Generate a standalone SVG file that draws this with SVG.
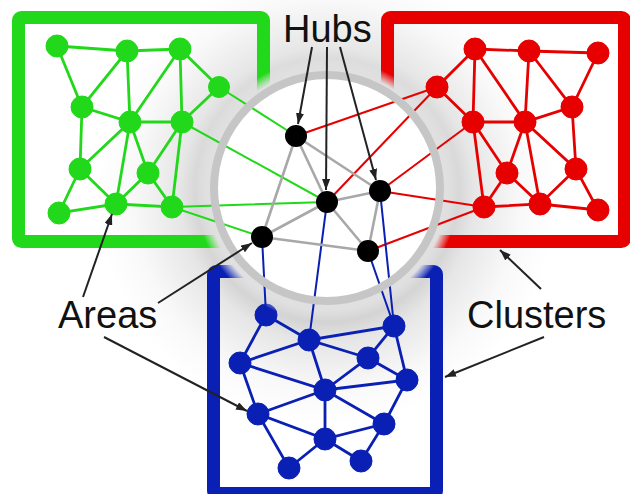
<svg xmlns="http://www.w3.org/2000/svg" width="630" height="494" viewBox="0 0 630 494">
<defs>
<radialGradient id="bgshade" cx="327" cy="195" r="230" gradientUnits="userSpaceOnUse">
<stop offset="0.5" stop-color="#c8c8c8"/>
<stop offset="0.64" stop-color="#e6e6e6"/>
<stop offset="0.85" stop-color="#f9f9f9"/>
<stop offset="1" stop-color="#ffffff"/>
</radialGradient>
<radialGradient id="halo" cx="327" cy="190" r="132" gradientUnits="userSpaceOnUse">
<stop offset="0" stop-color="#e6e6e6"/>
<stop offset="0.91" stop-color="#e0e0e0" stop-opacity="1"/>
<stop offset="1" stop-color="#eeeeee" stop-opacity="0"/>
</radialGradient>
<marker id="ah" markerUnits="userSpaceOnUse" markerWidth="11" markerHeight="8" refX="11" refY="4" orient="auto">
<path d="M0,0 L11,4 L0,8 z" fill="#222"/>
</marker>
<style>
.box{fill:none;stroke-width:13}
.g{stroke:#22d81a;fill:#22d81a}
.r{stroke:#e60000;fill:#e60000}
.b{stroke:#0a20b4;fill:#0a20b4}
.e{stroke-width:2.8;fill:none;stroke-linecap:round}
.ce{stroke-width:2;fill:none}
.he{stroke:#a8a8a8;stroke-width:2.6;fill:none}
.arr{stroke:#222;stroke-width:2;fill:none}
.lbl{font-family:"Liberation Sans",Arial,sans-serif;font-size:38px;fill:#111}
</style>
</defs>
<rect width="630" height="494" fill="#ffffff"/>
<rect width="630" height="494" fill="url(#bgshade)"/>

<g id="green-cluster">
<rect class="box g" x="18.5" y="17.5" width="245" height="224" rx="3" style="fill:none"/>
<g class="g e">
<path d="M57,46 L127,51 L180,49 M57,46 L82,107 L127,51 L130,122 L180,49 L182,122 M180,49 L219,87 L182,122 M82,107 L130,122 L182,122 M82,107 L80,169 L130,122 L116,204 M130,122 L148,173 L182,122 L172,207 M80,169 L116,204 L59,213 L80,169 M116,204 L148,173 L172,207 L116,204"/>
</g>
<g class="g">
<circle cx="57" cy="46" r="11"/><circle cx="127" cy="51" r="11"/><circle cx="180" cy="49" r="11"/><circle cx="219" cy="87" r="10.5"/>
<circle cx="82" cy="107" r="11"/><circle cx="130" cy="122" r="11"/><circle cx="182" cy="122" r="11"/><circle cx="80" cy="169" r="11"/>
<circle cx="148" cy="173" r="11"/><circle cx="116" cy="204" r="11"/><circle cx="172" cy="207" r="11"/><circle cx="59" cy="213" r="11"/>
</g>
</g>

<g id="red-cluster">
<rect class="box r" x="387.5" y="17.5" width="237" height="224" rx="3" style="fill:none"/>
<g class="r e">
<path d="M475,49 L529,51 L598,53 M475,49 L437,87 L473,122 L475,49 L525,122 L529,51 L572,107 L598,53 M473,122 L525,122 L572,107 L576,169 L525,122 L507,173 L473,122 L484,207 L507,173 L540,204 L525,122 M484,207 L540,204 L576,169 L598,210 L540,204"/>
</g>
<g class="r">
<circle cx="475" cy="49" r="11"/><circle cx="529" cy="51" r="11"/><circle cx="598" cy="53" r="11"/><circle cx="437" cy="87" r="11"/>
<circle cx="572" cy="107" r="11"/><circle cx="473" cy="122" r="11"/><circle cx="525" cy="122" r="11"/><circle cx="507" cy="173" r="11"/>
<circle cx="576" cy="169" r="11"/><circle cx="484" cy="207" r="11"/><circle cx="540" cy="204" r="11"/><circle cx="598" cy="210" r="11"/>
</g>
</g>

<g id="blue-cluster">
<rect class="box b" x="213.5" y="271.5" width="223" height="222" rx="3" style="fill:none"/>
<g class="b e">
<path d="M266,315 L309,340 L394,326 L368,358 L309,340 L240,363 L266,315 M394,326 L407,380 L368,358 L325,390 L309,340 M240,363 L325,390 L407,380 L384,424 L325,390 L258,414 L240,363 M325,390 L325,439 L258,414 L289,468 L325,439 L384,424 L361,461 L325,439"/>
</g>
<g class="b">
<circle cx="266" cy="315" r="11"/><circle cx="309" cy="340" r="11"/><circle cx="394" cy="326" r="11"/><circle cx="240" cy="363" r="11"/>
<circle cx="368" cy="358" r="11"/><circle cx="325" cy="390" r="11"/><circle cx="407" cy="380" r="11"/><circle cx="258" cy="414" r="11"/>
<circle cx="384" cy="424" r="11"/><circle cx="325" cy="439" r="11"/><circle cx="289" cy="468" r="11"/><circle cx="361" cy="461" r="11"/>
</g>
</g>

<g id="hub-circle">
<circle cx="327" cy="190" r="132" fill="url(#halo)"/>
<circle cx="327" cy="188" r="113" fill="#ffffff"/>
</g>

<g id="connectors">
<g class="g ce">
<path d="M219,87 L296,136 M182,122 L327,202 M172,207 L327,202 M172,207 L262,237"/>
</g>
<g class="r ce">
<path d="M437,87 L296,136 M437,87 L327,202 M473,122 L380,191 M484,207 L380,191 M484,207 L368,251"/>
</g>
<g class="b ce">
<path d="M262,237 L266,315 M327,202 L309,340 M380,191 L394,326 M368,251 L394,326"/>
</g>
<g class="he">
<path d="M296,136 L262,237 M296,136 L327,202 M296,136 L380,191 M327,202 L380,191 M327,202 L262,237 M327,202 L368,251 M380,191 L368,251 M262,237 L368,251"/>
</g>
</g>

<g id="ring">
<circle cx="327" cy="188" r="113" fill="none" stroke="#c6c6c6" stroke-width="8"/>
</g>

<g id="hubs" fill="#000">
<circle cx="296" cy="136" r="11"/><circle cx="327" cy="202" r="11"/><circle cx="380" cy="191" r="11"/>
<circle cx="262" cy="237" r="11"/><circle cx="368" cy="251" r="11"/>
</g>

<g id="arrows" class="arr">
<line x1="312" y1="47" x2="298" y2="124" marker-end="url(#ah)"/>
<line x1="327" y1="47" x2="326" y2="190" marker-end="url(#ah)"/>
<line x1="340" y1="47" x2="376" y2="180" marker-end="url(#ah)"/>
<line x1="83" y1="297" x2="112" y2="214" marker-end="url(#ah)"/>
<line x1="158" y1="303" x2="252" y2="243" marker-end="url(#ah)"/>
<line x1="104" y1="337" x2="247" y2="411" marker-end="url(#ah)"/>
<line x1="541" y1="289" x2="500" y2="250" marker-end="url(#ah)"/>
<line x1="544" y1="337" x2="445" y2="377" marker-end="url(#ah)"/>
</g>

<g id="labels">
<text class="lbl" x="283" y="42">Hubs</text>
<text class="lbl" x="58" y="328">Areas</text>
<text class="lbl" x="467" y="328">Clusters</text>
</g>
</svg>
